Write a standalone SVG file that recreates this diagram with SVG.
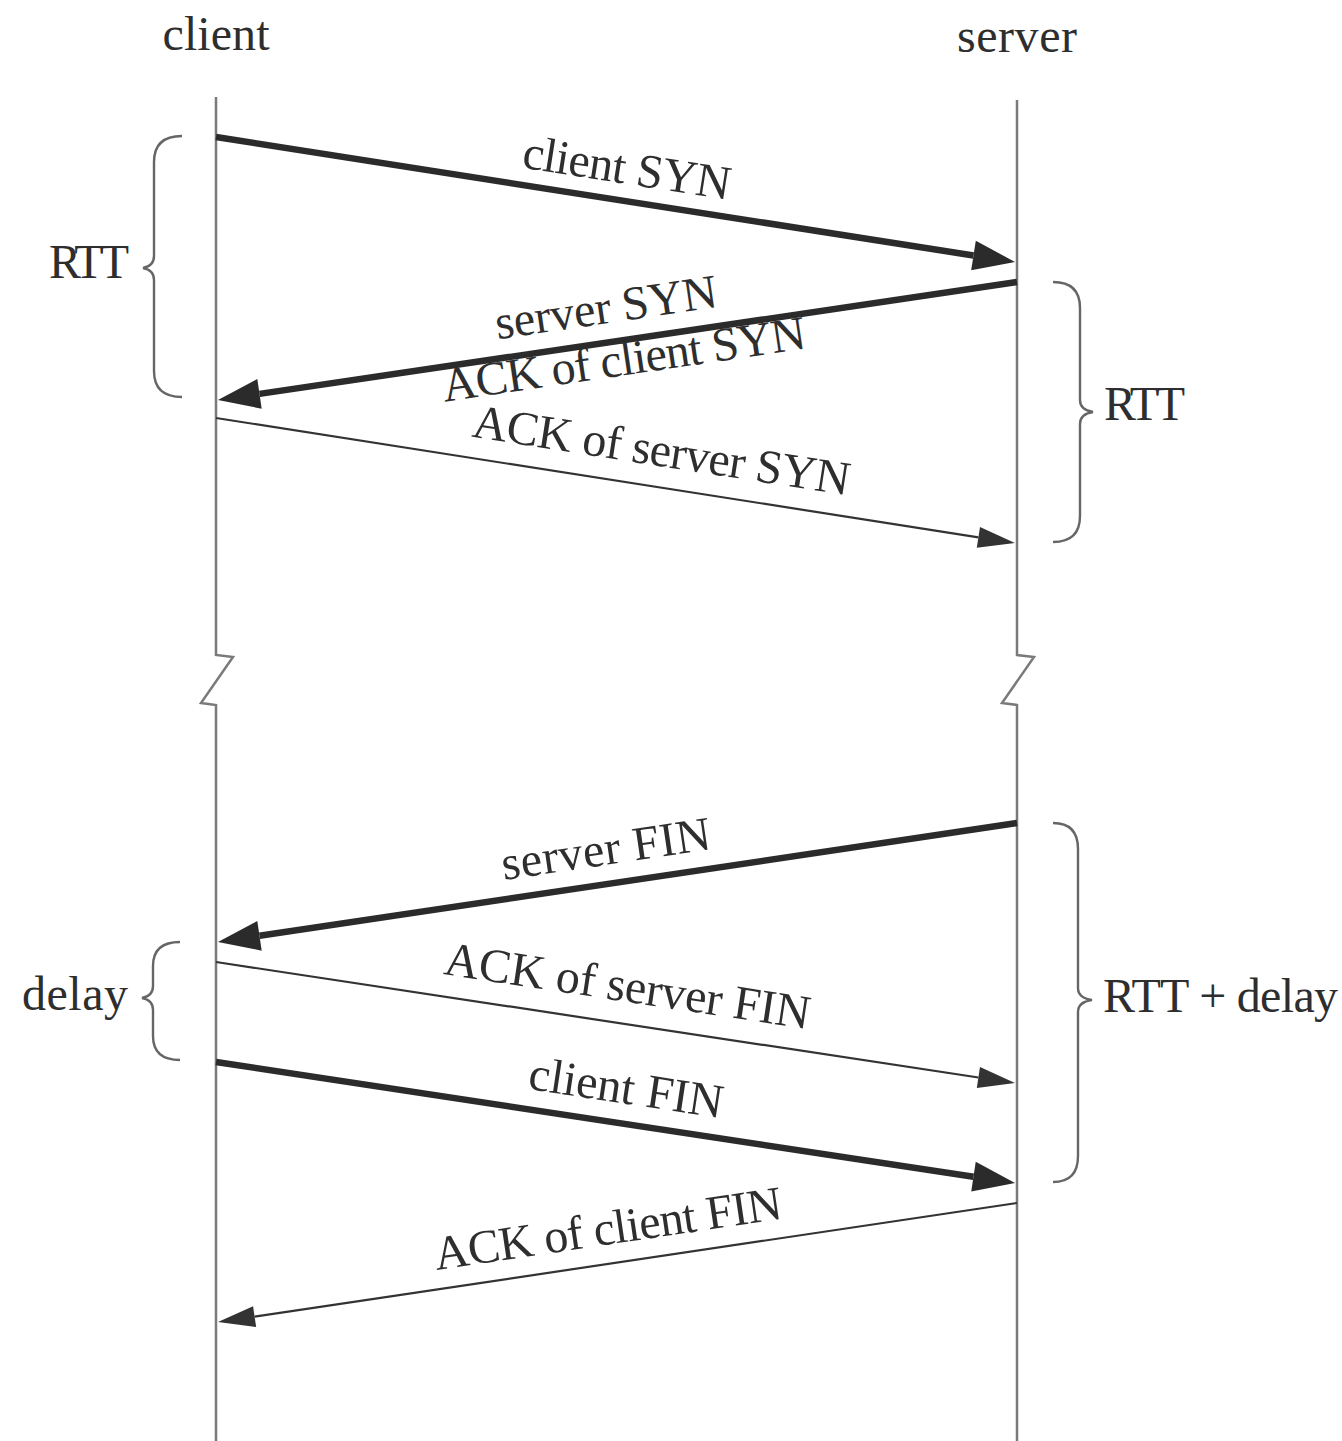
<svg xmlns="http://www.w3.org/2000/svg" width="1342" height="1441" viewBox="0 0 1342 1441">
  <style>
    .t { font-family: "Liberation Serif", "Times New Roman", serif; font-size: 48px; fill: #2e2e2e; }
    .life { fill: none; stroke: #7a7a7a; stroke-width: 2.5; }
    .thick { fill: none; stroke: #2b2b2b; stroke-width: 6.5; }
    .thin { fill: none; stroke: #333; stroke-width: 2.2; }
    .brace { fill: none; stroke: #666; stroke-width: 2.4; }
  </style>
  <defs>
    <marker id="headBig" markerUnits="userSpaceOnUse" viewBox="-1 -17 45 34" markerWidth="45" markerHeight="34" refX="0" refY="0" orient="auto" overflow="visible">
      <path d="M0,-15 L42,0 L0,15 Z" fill="#2b2b2b"/>
    </marker>
    <marker id="headSmall" markerUnits="userSpaceOnUse" viewBox="-1 -12 40 24" markerWidth="40" markerHeight="24" refX="0" refY="0" orient="auto" overflow="visible">
      <path d="M0,-10.5 L37,0 L0,10.5 Z" fill="#333"/>
    </marker>
  </defs>
  <rect width="1342" height="1441" fill="#ffffff"/>

  <g id="client">
    <path class="life" d="M216,97 V655 L233,657 L201,703 L216,705 V1441"/>
    <text class="t" x="216" y="50" text-anchor="middle" textLength="107">client</text>
  </g>
  <g id="server">
    <path class="life" d="M1017,100 V655 L1034,657 L1002,703 L1017,705 V1441"/>
    <text class="t" x="1017" y="52" text-anchor="middle" textLength="120">server</text>
  </g>

  <g id="connectors">
    <path class="thick" d="M216,137 L973.5,255.5" marker-end="url(#headBig)"/>
    <path class="thick" d="M1017,282 L259.5,393.9" marker-end="url(#headBig)"/>
    <path class="thin" d="M216,418 L978.4,537.3" marker-end="url(#headSmall)"/>
    <path class="thick" d="M1017,823 L259.5,935.8" marker-end="url(#headBig)"/>
    <path class="thin" d="M216,962 L978.4,1077.5" marker-end="url(#headSmall)"/>
    <path class="thick" d="M216,1062 L973.5,1176.7" marker-end="url(#headBig)"/>
    <path class="thin" d="M1017,1203 L254.6,1316.6" marker-end="url(#headSmall)"/>
  </g>

  <g id="connector-labels">
    <text class="t" transform="translate(622,200.4) rotate(8.87)" x="0" y="-17" text-anchor="middle" textLength="210">client SYN</text>
    <text class="t" transform="translate(611,341.8) rotate(-8.38)" x="0" y="-19" text-anchor="middle" textLength="224">server SYN</text>
    <text class="t" transform="translate(621,340.3) rotate(-8.38)" x="0" y="35" text-anchor="middle" textLength="367">ACK of client SYN</text>
    <text class="t" transform="translate(656,486.7) rotate(8.87)" x="0" y="-21" text-anchor="middle" textLength="381">ACK of server SYN</text>
    <text class="t" transform="translate(611,883.3) rotate(-8.45)" x="0" y="-19" text-anchor="middle" textLength="211">server FIN</text>
    <text class="t" transform="translate(622,1023.3) rotate(8.59)" x="0" y="-22" text-anchor="middle" textLength="369">ACK of server FIN</text>
    <text class="t" transform="translate(621,1123.2) rotate(8.59)" x="0" y="-20" text-anchor="middle" textLength="196">client FIN</text>
    <text class="t" transform="translate(613,1263) rotate(-8.45)" x="0" y="-19" text-anchor="middle" textLength="351">ACK of client FIN</text>
  </g>

  <g id="brace-rtt-left">
    <path class="brace" d="M182,136 Q154,136 154,162 V256 Q154,266 143,268 Q154,270 154,280 V371 Q154,397 182,397"/>
    <text class="t" x="49" y="278" textLength="80">RTT</text>
  </g>
  <g id="brace-rtt-right">
    <path class="brace" d="M1053,282 Q1080,282 1080,308 V400 Q1080,410 1093,412 Q1080,414 1080,424 V516 Q1080,542 1053,542"/>
    <text class="t" x="1104" y="420" textLength="81">RTT</text>
  </g>
  <g id="brace-delay">
    <path class="brace" d="M180,942 Q153,942 153,966 V986 Q153,996 142,998 Q153,1000 153,1010 V1036 Q153,1060 180,1060"/>
    <text class="t" x="22" y="1010" textLength="106">delay</text>
  </g>
  <g id="brace-rtt-delay">
    <path class="brace" d="M1053,823 Q1078,823 1078,849 V988 Q1078,998 1092,1000 Q1078,1002 1078,1012 V1156 Q1078,1182 1053,1182"/>
    <text class="t" x="1103" y="1012" textLength="235">RTT + delay</text>
  </g>
</svg>
